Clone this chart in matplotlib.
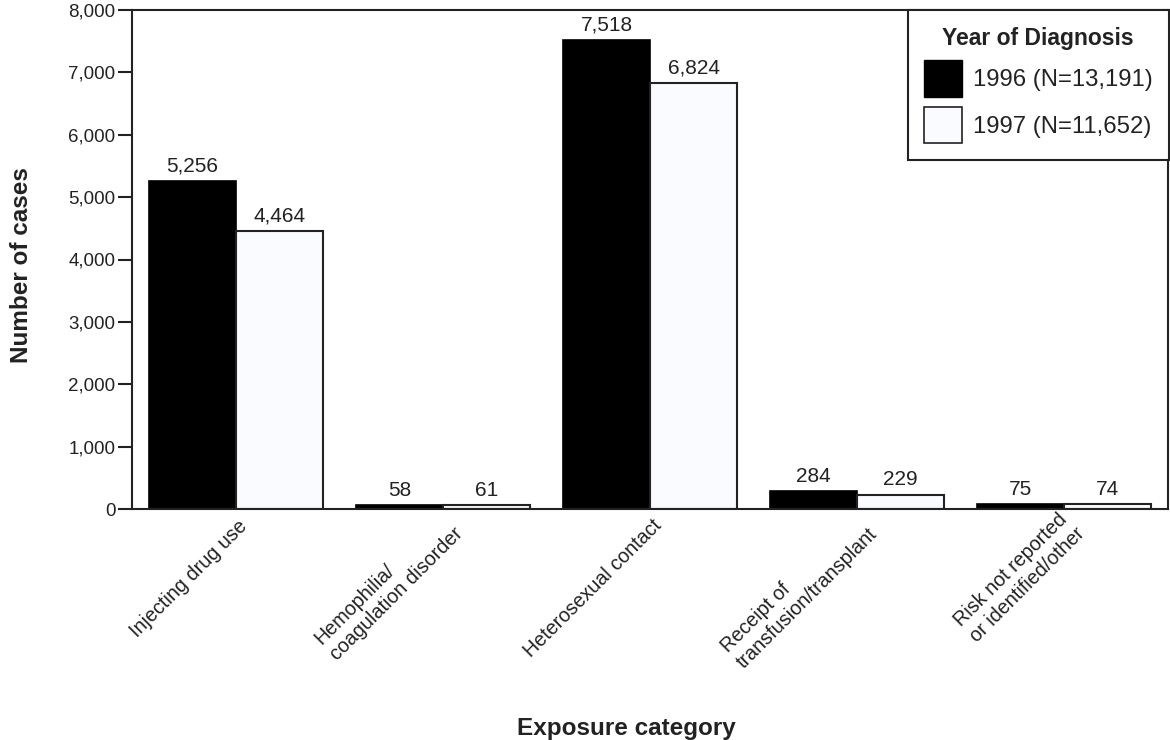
import matplotlib
matplotlib.use("Agg")
import matplotlib.pyplot as plt
import matplotlib.transforms as mtransforms
import numpy as np
from matplotlib.patches import Patch

plt.rcParams['font.family'] = ['Liberation Sans', 'DejaVu Sans']

categories = ["Injecting drug use", "Hemophilia/\ncoagulation disorder",
              "Heterosexual contact", "Receipt of\ntransfusion/transplant",
              "Risk not reported\nor identified/other"]
values_1996 = [5256, 58, 7518, 284, 75]
values_1997 = [4464, 61, 6824, 229, 74]
series_labels = ["1996 (N=13,191)", "1997 (N=11,652)"]
yticks = [0, 1000, 2000, 3000, 4000, 5000, 6000, 7000, 8000]

W, H = 1170, 740
fig = plt.figure(figsize=(W / 100, H / 100), dpi=100)
ax = fig.add_axes([132 / W, 1 - 509 / H, (1168 - 132) / W, (509 - 10) / H])

txt = '#222222'
x = np.arange(len(categories))
bw = 0.42
b1 = ax.bar(x - bw / 2, values_1996, bw, color='black', edgecolor='black', linewidth=1.2)
b2 = ax.bar(x + bw / 2, values_1997, bw, color='#fafbff', edgecolor='#222222', linewidth=1.5)

for bars in (b1, b2):
    ax.bar_label(bars, labels=[f"{int(v):,}" for v in bars.datavalues], padding=4,
                 fontsize=15, color=txt)

ax.set_xlim(-0.5, len(categories) - 0.5)
ax.set_ylim(0, 8000)
ax.set_yticks(yticks)
ax.set_yticklabels([f"{v:,}" for v in yticks], fontsize=13.5, color=txt)
ax.tick_params(axis='y', direction='out', length=10, width=1.5, pad=2, colors=txt)
ax.tick_params(axis='x', length=0, pad=0)
ax.set_xticks(x)
ax.set_xticklabels(categories, rotation=45, ha='right', va='center', rotation_mode='anchor',
                   fontsize=14.2, color=txt, multialignment='left', linespacing=1.25)
offset = mtransforms.ScaledTranslation(9 / 100, -14 / 100, fig.dpi_scale_trans)
for lbl in ax.get_xticklabels():
    lbl.set_transform(lbl.get_transform() + offset)
for s in ax.spines.values():
    s.set_linewidth(1.5)
    s.set_color(txt)

handles = [Patch(facecolor='black', edgecolor='black'),
           Patch(facecolor='#fafbff', edgecolor='#222222', linewidth=1.2)]
leg = fig.legend(handles, series_labels, loc='upper right',
                 bbox_to_anchor=(1169 / W, 1 - 10 / H), borderaxespad=0,
                 title="Year of Diagnosis", fontsize=17.2, title_fontsize=16.5,
                 handlelength=1.6, handleheight=1.95, handletextpad=0.42,
                 labelspacing=0.45, borderpad=0.7, fancybox=False, framealpha=1)
leg.get_title().set_fontweight('bold')
leg.get_title().set_color(txt)
for t in leg.get_texts():
    t.set_color(txt)
leg.get_frame().set_edgecolor(txt)
leg.get_frame().set_linewidth(1.5)

fig.text(22 / W, 1 - 265 / H, "Number of cases", rotation=90, ha='center', va='center',
         fontsize=17.5, fontweight='bold', color=txt)
fig.text(626 / W, 1 - 728 / H, "Exposure category", ha='center', va='center',
         fontsize=17.5, fontweight='bold', color=txt)

fig.savefig("out.png", dpi=100)
